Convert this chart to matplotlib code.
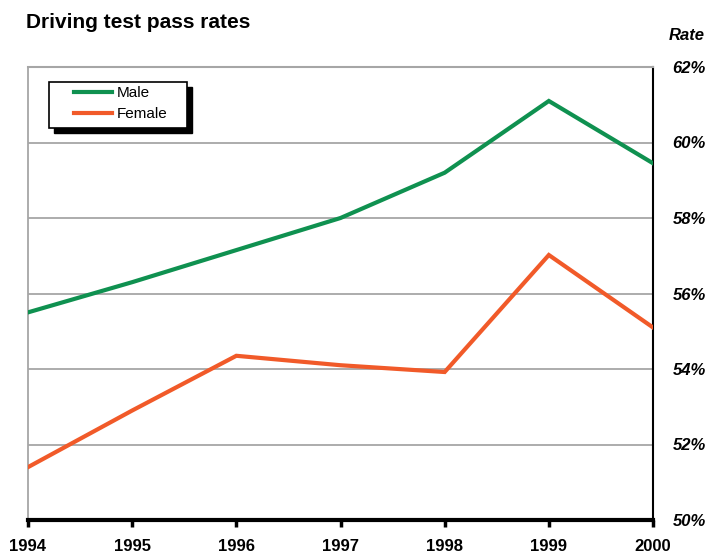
import matplotlib
matplotlib.use("Agg")
import matplotlib.pyplot as plt
from matplotlib.patches import Rectangle

years = [1994, 1995, 1996, 1997, 1998, 1999, 2000]
male = [55.5, 56.3, 57.15, 58.0, 59.2, 61.1, 59.45]
female = [51.4, 52.9, 54.35, 54.1, 53.92, 57.02, 55.1]
yticks = [50, 52, 54, 56, 58, 60, 62]
ytick_labels = ["50%", "52%", "54%", "56%", "58%", "60%", "62%"]

plt.rcParams['font.family'] = ['Liberation Sans Narrow', 'Liberation Sans', 'DejaVu Sans']

W, H = 709, 556
fig = plt.figure(figsize=(W/100, H/100), dpi=100)
ax = fig.add_axes([28/W, 36/H, 625/W, 453/H])

for y in yticks[1:-1]:
    ax.axhline(y, color='#a6a6a6', lw=1.3, zorder=1)

ax.plot(years, male, color='#0f9150', lw=3, label='Male', zorder=3, solid_joinstyle='miter')
ax.plot(years, female, color='#f15a29', lw=3, label='Female', zorder=3, solid_joinstyle='miter')

ax.set_xlim(1994, 2000)
ax.set_ylim(50, 62)

ax.spines['top'].set_color('#a6a6a6')
ax.spines['top'].set_linewidth(1.5)
ax.spines['left'].set_color('#a6a6a6')
ax.spines['left'].set_linewidth(1.3)
ax.spines['right'].set_color('black')
ax.spines['right'].set_linewidth(1.5)
ax.spines['bottom'].set_color('black')
ax.spines['bottom'].set_linewidth(3)

ax.set_xticks(years)
ax.set_xticklabels([str(y) for y in years], fontsize=12, fontweight='bold')
ax.tick_params(axis='x', direction='out', length=5, width=2.5, pad=9)

ax.yaxis.tick_right()
ax.set_yticks(yticks)
ax.set_yticklabels(ytick_labels, fontsize=12, fontweight='bold', fontstyle='italic')
ax.tick_params(axis='y', length=0, pad=14)

fig.text(26/W, 1 - 22/H, 'Driving test pass rates', fontsize=15, fontweight='bold',
         ha='left', va='center')
fig.text(705/W, 1 - 36/H, 'Rate', fontsize=12, fontweight='bold', fontstyle='italic',
         ha='right', va='center')

# legend box with shadow
bx0, by0, bx1, by1 = 49, 82, 187, 128
sh = 5
fig.patches.append(Rectangle(((bx0 + sh)/W, 1 - (by1 + sh)/H), (bx1 - bx0)/W, (by1 - by0)/H,
                             transform=fig.transFigure, facecolor='black', edgecolor='black',
                             zorder=5))
fig.patches.append(Rectangle((bx0/W, 1 - by1/H), (bx1 - bx0)/W, (by1 - by0)/H,
                             transform=fig.transFigure, facecolor='white', edgecolor='black',
                             lw=1.2, zorder=6))

leg = fig.legend(*ax.get_legend_handles_labels(), loc='upper left',
                 bbox_to_anchor=(74/W, 1 - 86/H), bbox_transform=fig.transFigure,
                 frameon=False, fontsize=11, handlelength=2.5, borderpad=0,
                 labelspacing=0.45, handletextpad=0.3, borderaxespad=0)
leg.set_zorder(7)

fig.savefig('out.png', dpi=100)
